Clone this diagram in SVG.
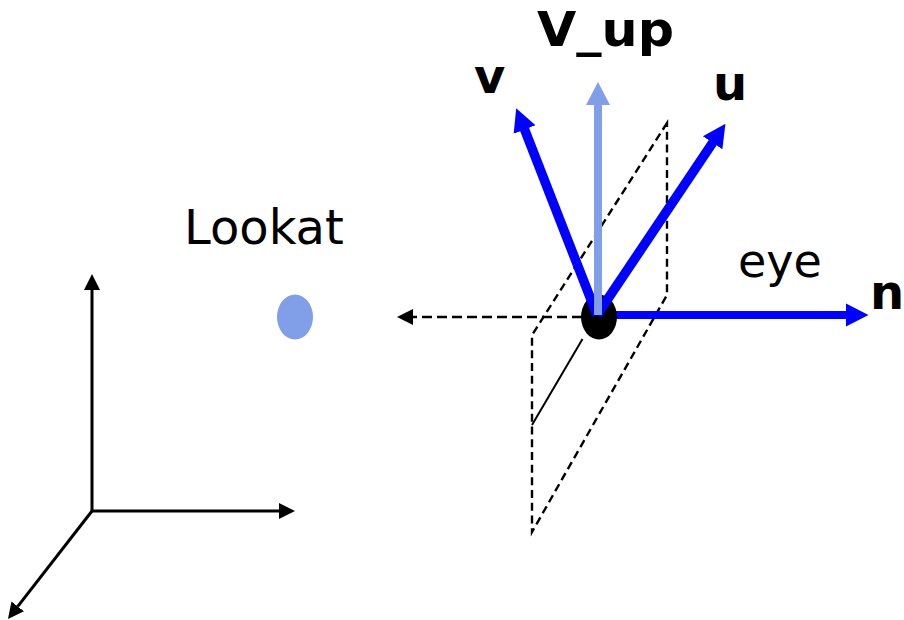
<svg xmlns="http://www.w3.org/2000/svg" width="904" height="620" viewBox="0 0 904 620">
<style>
text{font-family:"DejaVu Sans",Verdana,sans-serif;fill:#000}
.b{font-weight:bold;font-size:48px}
.r{font-size:46px}
.ax{stroke:#000;stroke-width:3;fill:none}
.d{stroke:#000;stroke-width:2.4;fill:none;stroke-dasharray:8 4.7}
.blue{stroke:#0000ff;stroke-width:8;fill:none}
.diag{stroke-width:9.5}
.lb{stroke:#809fe8;stroke-width:8;fill:none}
</style>
<defs>
<marker id="hk" markerUnits="userSpaceOnUse" markerWidth="18" markerHeight="18" refX="0" refY="9" orient="auto"><path d="M0 1L16 9L0 17Z" fill="#000"/></marker>
<marker id="hb" markerUnits="userSpaceOnUse" markerWidth="25" markerHeight="26" refX="0.5" refY="13" orient="auto"><path d="M0 1.3L23 13L0 24.7Z" fill="#0000ff"/></marker>
<marker id="hl" markerUnits="userSpaceOnUse" markerWidth="25" markerHeight="26" refX="0" refY="13" orient="auto"><path d="M0 1L23 13L0 25Z" fill="#809fe8"/></marker>
</defs>
<g id="connectors">
<line class="ax" x1="92" y1="511" x2="92" y2="290" marker-end="url(#hk)"/>
<line class="ax" x1="92" y1="511" x2="279" y2="511" marker-end="url(#hk)"/>
<line class="ax" x1="92" y1="511" x2="17.8" y2="606.4" marker-end="url(#hk)"/>
<path class="d" d="M667 123L532 335V532L667 295Z"/>
<line class="d" style="stroke-width:2.5;stroke-dasharray:10 5" x1="582" y1="317" x2="413" y2="317" marker-end="url(#hk)"/>
<line x1="582.5" y1="339" x2="532" y2="425" stroke="#000" stroke-width="2"/>
<line class="blue" x1="597" y1="315" x2="846" y2="315" marker-end="url(#hb)"/>
</g>
<g id="eye"><ellipse cx="599" cy="317" rx="18" ry="22.5" fill="#000"/><text class="r" x="738" y="277">eye</text></g>
<g id="lookat"><ellipse cx="295" cy="317" rx="18" ry="22.5" fill="#809fe8"/><text class="r" style="font-size:48px" x="184" y="244">Lookat</text></g>
<g id="vectors">
<line class="blue diag" x1="597" y1="315" x2="712.9" y2="142.4" marker-end="url(#hb)"/>
<line class="blue diag" x1="597" y1="315" x2="524.4" y2="129.1" marker-end="url(#hb)"/>
<line class="lb" x1="598" y1="315" x2="598" y2="105" marker-end="url(#hl)"/>
</g>
<g id="labels">
<text class="b" x="537" y="46" textLength="137" lengthAdjust="spacingAndGlyphs">V_up</text>
<text class="b" x="474" y="93">v</text>
<text class="b" x="713" y="100">u</text>
<text class="b" x="870" y="309">n</text>
</g>
</svg>
